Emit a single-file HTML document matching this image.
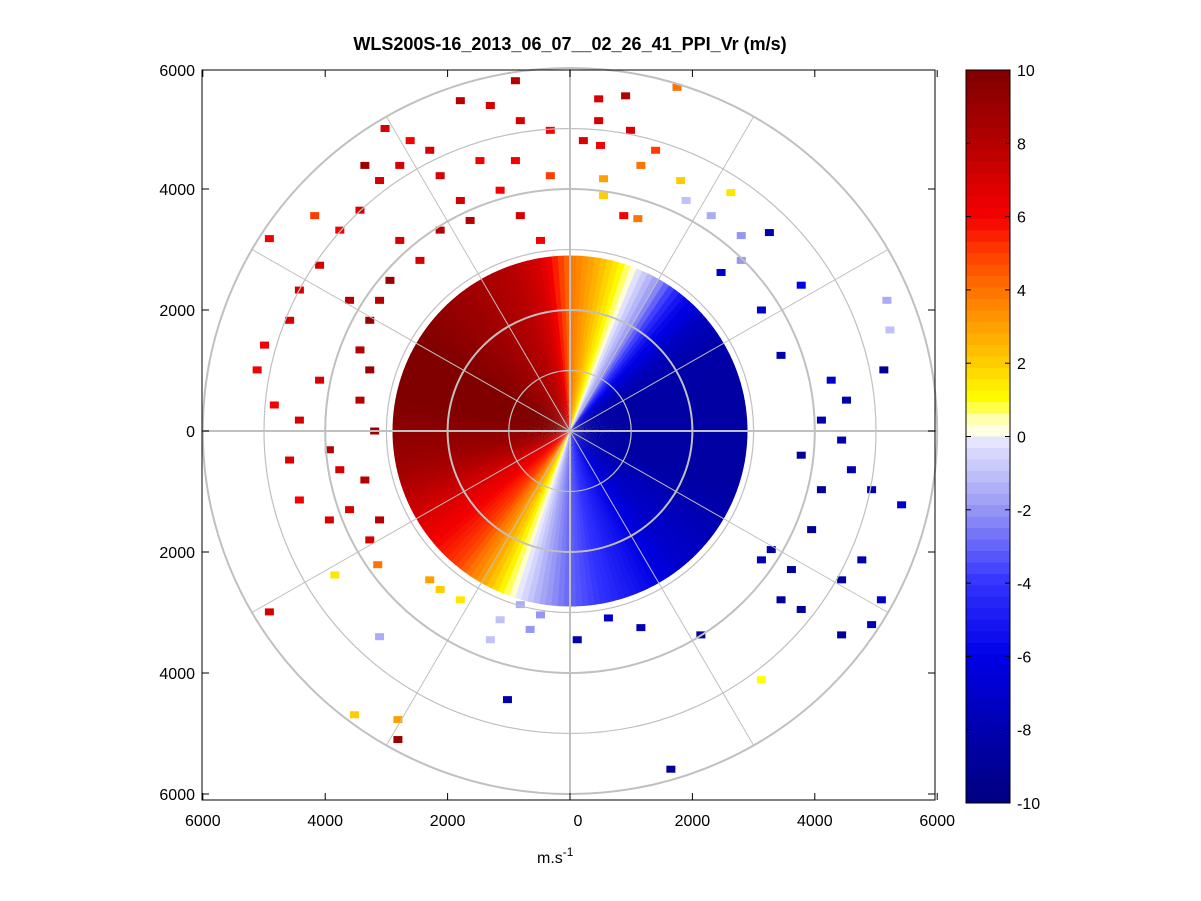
<!DOCTYPE html>
<html><head><meta charset="utf-8"><style>
html,body{margin:0;padding:0;background:#fff;}
svg{display:block;font-family:"Liberation Sans",Arial,sans-serif;}
</style></head><body>
<svg id="chart" width="1201" height="901" viewBox="0 0 1201 901" xmlns="http://www.w3.org/2000/svg">
<rect width="1201" height="901" fill="#fff"/>
<text x="570" y="50" font-size="18" font-weight="bold" text-anchor="middle">WLS200S-16_2013_06_07__02_26_41_PPI_Vr (m/s)</text>
<g id="plot"></g>
<text x="537" y="863" font-size="16">m.s<tspan dy="-7" font-size="12">-1</tspan></text>
</svg>
<script>
// dense-region radial velocity per azimuth (deg from north, clockwise, every 10 deg)
const azimuths=[0,10,20,30,40,50,60,70,80,90,100,110,120,130,140,150,160,170,180,190,200,210,220,230,240,250,260,270,280,290,300,310,320,330,340,350];
const denseVel=[4,2.5,0.5,-2,-5.5,-7.5,-8.3,-8.5,-8.5,-8.5,-8.5,-8.5,-8,-7.5,-7,-6,-5,-4,-3,-1.5,0.5,3,5,6,7,8,9,9.5,10,10,10,9.5,9,8.5,8,7];
const denseRange=2900;
// sparse points: x (m), y (m), velocity (m/s)
const ptX=[460,900,460,490,980,210,1740,1150,1390,540,870,1100,1800,2620,540,1890,2300,2790,3250,2790,3770,2460,3120,3440,4260,4510,5120,4100,4430,3770,4590,4100,4920,5410,3940,3280,3610,3120,3440,3770,4430,4760,5080,4430,4920,2130,1150,620,110,-1030,1640,5220,5170,-820,-490,-1150,-660,-1310,-3120,3120,-3850,-2130,-1800,-2300,-3530,-2820,-2820,-4920,-3150,-4430,-3940,-4590,-4840,-4430,-4100,-3940,-3770,-3610,-4430,-5000,-5120,-4590,-4100,-4920,-4180,-3770,-3440,-3120,-3360,-3030,-2620,-2790,-2300,-1800,-1310,-900,-820,-330,-1480,-2130,-1800,-2130,-1150,-820,-490,-330,-900,-1640,-2460,-2950,-3120,-2790,-3280,-3440,-3360,-3610,-3120,-3280,-3440,-3200,-3280];
const ptY=[5490,5540,5130,4720,4970,4800,5680,4390,4640,4170,3560,3510,4140,3940,3890,3810,3560,3230,3280,2820,2410,2620,2000,1250,840,510,1010,180,-150,-400,-640,-970,-970,-1220,-1630,-1960,-2290,-2130,-2790,-2950,-2460,-2130,-2790,-3370,-3200,-3370,-3250,-3090,-3450,-4440,-5590,1670,2160,-2870,-3040,-3120,-3280,-3450,-3400,-4110,-2380,-2620,-2790,-2460,-4690,-4770,-5100,-2990,-2210,-1140,-1470,-480,430,180,840,-310,-640,2160,2330,1420,1010,1830,2740,3180,3560,3320,3650,4140,4390,5000,4800,4390,4640,5460,5380,5790,5130,4970,4470,4220,3810,3320,3980,3560,3150,4220,4470,3480,2820,2490,2160,3150,1830,1340,-810,-1300,-1470,-1800,510,0,1010];
const ptV=[7,8,7,6,7,7,4,4,5,3,6,4,2,1.5,2,-1,-1.5,-2,-8,-2,-6,-7,-7,-8,-7,-8,-9,-8,-8,-9,-8,-9,-8,-7,-9,-9,-9,-8,-9,-9,-9,-8,-7,-9,-8,-9,-8,-7,-8,-8,-9,-1,-1.5,-1.5,-2,-1,-2,-1,-1.5,1,1.5,2,1.5,3,2,3,9,7,4,6,7,7,6,7,7,8,7,8,7,6,6,7,7,6,5,6,7,7,9,7,6,7,7,8,7,8,7,6,6,7,7,8,6,7,6,5,6,8,7,9,8,7,9,8,8,7,8,7,8,9,9];
const cbTicks=[10,8,6,4,2,0,-2,-4,-6,-8,-10];
const xTicks=[-6000,-4000,-2000,0,2000,4000,6000];
const yTicks=[6000,4000,2000,0,-2000,-4000,-6000];

const CX=570,CY=431,SX=61.2/1000,SY=60.5/1000;
const px=x=>CX+x*SX, py=y=>CY-y*SY;
const stopsV=[-10,-8,-6,-4,-2,-0.01,0,0.5,1,2,3,4,5,6,7,8,10];
const stopsC=[[0,0,128],[0,0,175],[0,0,230],[50,50,255],[150,150,245],[235,235,255],[255,255,255],[255,255,170],[255,255,0],[255,205,0],[255,160,0],[255,115,0],[255,60,0],[245,0,0],[215,0,0],[180,0,0],[128,0,0]];
function col(v){v=Math.max(-10,Math.min(10,v));for(let i=0;i<stopsV.length-1;i++){if(v<=stopsV[i+1]){const t=(v-stopsV[i])/(stopsV[i+1]-stopsV[i]);const a=stopsC[i],b=stopsC[i+1];return`rgb(${Math.round(a[0]+(b[0]-a[0])*t)},${Math.round(a[1]+(b[1]-a[1])*t)},${Math.round(a[2]+(b[2]-a[2])*t)})`;}}return 'rgb(128,0,0)';}
const NS='http://www.w3.org/2000/svg';
const g=document.getElementById('plot');
function mk(tag,attrs,parent){const e=document.createElementNS(NS,tag);for(const k in attrs)e.setAttribute(k,attrs[k]);(parent||g).appendChild(e);return e;}
function velAt(az){az=((az%360)+360)%360;const i=Math.floor(az/10),j=(i+1)%36,t=(az-i*10)/10;return denseVel[i]+(denseVel[j]-denseVel[i])*t;}
// dense wedges
const dense=mk('g',{});


for(let a=0;a<360;a+=2){
  const a1=(a)*Math.PI/180,a2=(a+2.3)*Math.PI/180;
  const x1=px(denseRange*Math.sin(a1)),y1=py(denseRange*Math.cos(a1)),x2=px(denseRange*Math.sin(a2)),y2=py(denseRange*Math.cos(a2));
  const p=mk('path',{d:`M${CX},${CY}L${x1},${y1}A${denseRange*SX},${denseRange*SY} 0 0 1 ${x2},${y2}Z`,fill:col(velAt(a+1))},dense);
  
  
}
// sparse
for(let i=0;i<ptX.length;i++){
  const r=mk('rect',{x:px(ptX[i])-4,y:py(ptY[i])-3.5,width:9,height:7,fill:col(ptV[i])});
  
  
}
// grid
const grid=mk('g',{stroke:'#c0c0c0',fill:'none'});


for(let k=1;k<=6;k++){mk('ellipse',{cx:CX,cy:CY,rx:k*1000*SX,ry:k*1000*SY,'stroke-width':k%2?1.2:2},grid);}
for(let a=0;a<360;a+=30){mk('line',{x1:CX,y1:CY,x2:px(6000*Math.sin(a*Math.PI/180)),y2:py(6000*Math.cos(a*Math.PI/180)),'stroke-width':a%90?1:2},grid);}
// axes box
const box=mk('rect',{x:202,y:70,width:733,height:730,fill:'none',stroke:'#000','stroke-width':1});


xTicks.forEach(t=>{const x=px(t);mk('line',{x1:x,y1:800,x2:x,y2:793,stroke:'#000'});mk('line',{x1:x,y1:70,x2:x,y2:77,stroke:'#000'});
  const tx=mk('text',{x:x+(t===0?8:0),y:826,'font-size':16,'text-anchor':'middle'});tx.textContent=Math.abs(t);
  
  });
yTicks.forEach(t=>{const y=Math.max(70,Math.min(796,py(t)));mk('line',{x1:202,y1:y,x2:209,y2:y,stroke:'#000'});mk('line',{x1:935,y1:y,x2:928,y2:y,stroke:'#000'});
  const tx=mk('text',{x:195,y:y+6,'font-size':16,'text-anchor':'end'});tx.textContent=Math.abs(t);
  
  });
// colorbar
const cb=mk('g',{});


const CB0=70,CB1=803,cy=v=>CB0+(10-v)/20*(CB1-CB0);
for(let k=0;k<64;k++){const v1=10-k*20/64,v2=v1-20/64;mk('rect',{x:966,y:cy(v1),width:44,height:cy(v2)-cy(v1)+0.5,fill:col((v1+v2)/2)},cb);}
mk('rect',{x:966,y:CB0,width:44,height:CB1-CB0,fill:'none',stroke:'#000'},cb);
cbTicks.forEach(v=>{const y=cy(v);mk('line',{x1:966,y1:y,x2:971,y2:y,stroke:'#000'},cb);mk('line',{x1:1010,y1:y,x2:1005,y2:y,stroke:'#000'},cb);
  const tx=mk('text',{x:1017,y:y+6,'font-size':16},cb);tx.textContent=v;
  
  });
</script>
</body></html>
